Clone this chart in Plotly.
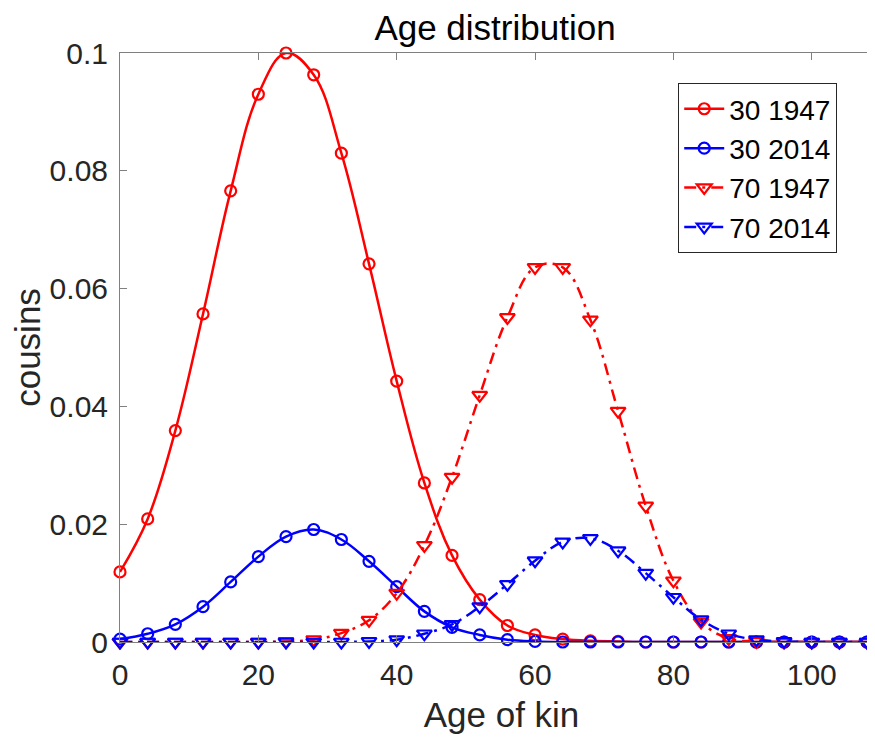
import plotly.graph_objects as go

ages = list(range(0, 109, 4))

cousins_30_1947 = [0.0119, 0.0209, 0.0359, 0.0557, 0.0766, 0.0930, 0.1000, 0.0963,
                   0.0830, 0.0642, 0.0443, 0.0270, 0.0147, 0.0072, 0.0028, 0.0012,
                   0.0005, 0.0002, 0.0001, 0, 0, 0, 0, 0, 0, 0, 0, 0]
cousins_30_2014 = [0.0005, 0.0014, 0.0030, 0.0060, 0.0102, 0.0145, 0.0179, 0.0191,
                   0.0174, 0.0137, 0.0094, 0.0052, 0.0025, 0.0012, 0.0004, 0.0001,
                   0, 0, 0, 0, 0, 0, 0, 0, 0, 0, 0, 0]
cousins_70_1947 = [0, 0, 0, 0, 0, 0, 0.0001, 0.0004, 0.0015, 0.0037, 0.0083, 0.0164,
                   0.0280, 0.0419, 0.0551, 0.0636, 0.0636, 0.0547, 0.0392, 0.0231,
                   0.0104, 0.0034, 0.0006, 0.0001, 0, 0, 0, 0]
cousins_70_2014 = [0, 0, 0, 0, 0, 0, 0, 0, 0, 0.0001, 0.0004, 0.0014, 0.0030, 0.0060,
                   0.0098, 0.0138, 0.0170, 0.0176, 0.0155, 0.0117, 0.0076, 0.0038,
                   0.0014, 0.0004, 0.0001, 0, 0, 0]

series = [
    ("30 1947", cousins_30_1947, "#ff0000", "solid", "circle-open", 11),
    ("30 2014", cousins_30_2014, "#0000ff", "solid", "circle-open", 11),
    ("70 1947", cousins_70_1947, "#ff0000", "12px,6px,3px,6px", "triangle-down-open", 13),
    ("70 2014", cousins_70_2014, "#0000ff", "12px,6px,3px,6px", "triangle-down-open", 13),
]

FONT = "Liberation Sans, Arial, Helvetica, sans-serif"
AX = "#262626"

fig = go.Figure()
for name, vals, color, dash, sym, size in series:
    fig.add_trace(go.Scatter(
        x=ages, y=vals, name=name, mode="lines+markers",
        line=dict(color=color, width=2.5, dash=dash, shape="spline", smoothing=1.1),
        marker=dict(symbol=sym, size=size, color=color, line=dict(color=color, width=2.2)),
        cliponaxis=False,
    ))

fig.update_layout(
    width=875, height=738,
    margin=dict(l=112, r=0, t=45, b=104, autoexpand=False),
    paper_bgcolor="white", plot_bgcolor="white",
    font=dict(family=FONT, color=AX, size=30),
    title=dict(text="Age distribution", x=0.4915, xref="paper", xanchor="center",
               y=1 - 20 / 738, yref="container", yanchor="middle",
               font=dict(family=FONT, size=35, color="black")),
    showlegend=True,
    legend=dict(x=0.94, xanchor="right", y=0.949, yanchor="top",
                bgcolor="white", bordercolor=AX, borderwidth=1,
                font=dict(family=FONT, size=28, color="black"),
                tracegroupgap=0, itemwidth=40),
)
fig.update_xaxes(
    range=[0, 110.3], tickvals=[0, 20, 40, 60, 80, 100], automargin=False,
    showgrid=False, zeroline=False, showline=True, linecolor="#808080", linewidth=1,
    mirror="ticks", ticks="inside", ticklen=7, tickcolor="#808080",
    tickfont=dict(family=FONT, size=30, color=AX), ticklabelstandoff=6,
    title=dict(text="Age of kin", font=dict(family=FONT, size=35, color=AX), standoff=12),
)
fig.update_yaxes(
    range=[0, 0.1], tickvals=[0, 0.02, 0.04, 0.06, 0.08, 0.1], automargin=False,
    ticktext=["0", "0.02", "0.04", "0.06", "0.08", "0.1"],
    showgrid=False, zeroline=False, showline=True, linecolor="#808080", linewidth=1,
    mirror="ticks", ticks="inside", ticklen=7, tickcolor="#808080",
    tickfont=dict(family=FONT, size=30, color=AX), ticklabelstandoff=5,
    title=dict(text="cousins", font=dict(family=FONT, size=35, color=AX), standoff=8),
)

fig.write_html("out.html")
